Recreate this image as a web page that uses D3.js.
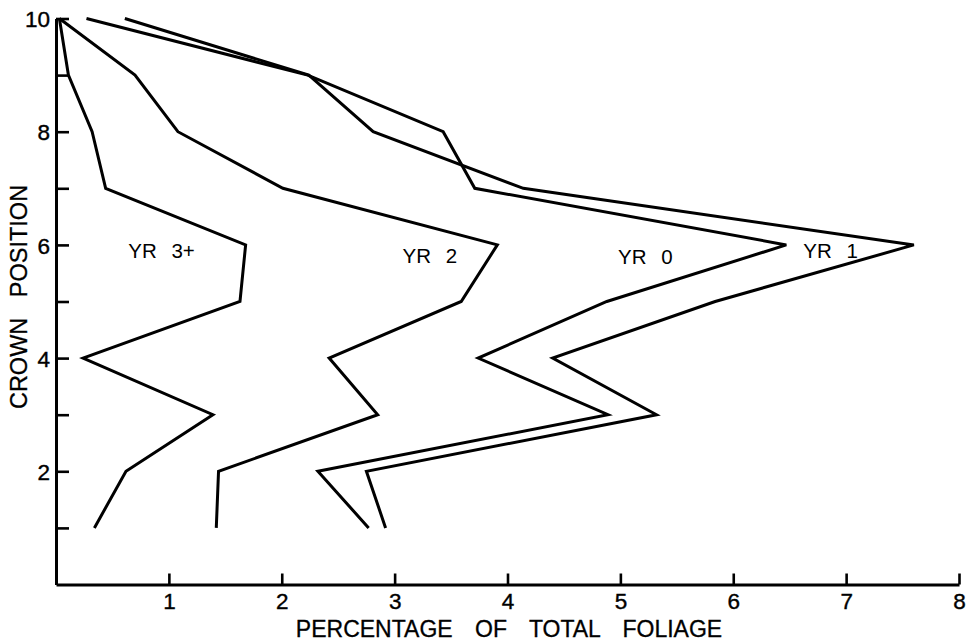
<!DOCTYPE html>
<html>
<head>
<meta charset="utf-8">
<script src="https://cdn.jsdelivr.net/npm/d3@7/dist/d3.min.js"></script>
<style>
  html, body { margin: 0; padding: 0; background: #fff; }
  svg { display: block; }
  text { font-family: "Liberation Sans", Arial, Helvetica, sans-serif; fill: #000; }
</style>
</head>
<body>
<svg id="chart" width="974" height="641"></svg>
<script>
// Crown positions (1 = bottom of crown, 10 = top)
const crownPositions = [1, 2, 3, 4, 5, 6, 7, 8, 9, 10];

// Percentage of total foliage by needle age class, per crown position
const yr0  = [2.77, 2.32, 4.89, 3.74, 4.88, 6.47, 3.71, 3.43, 2.23, 0.27];
const yr1  = [2.92, 2.75, 5.32, 4.40, 5.84, 7.60, 4.14, 2.81, 2.24, 0.61];
const yr2  = [1.42, 1.44, 2.85, 2.42, 3.59, 3.91, 2.01, 1.08, 0.70, 0.03];
const yr3p = [0.34, 0.62, 1.39, 0.24, 1.63, 1.68, 0.44, 0.32, 0.11, 0.03];

const seriesNames = ["YR 0", "YR 1", "YR 2", "YR 3+"];
const seriesValues = [yr0, yr1, yr2, yr3p];

// Curve labels, anchored in data units (percentage, crown position)
const labelNames = ["YR 3+", "YR 2", "YR 0", "YR 1"];
const labelPct   = [0.64, 3.07, 4.98, 6.62];
const labelPos   = [5.77, 5.68, 5.66, 5.77];

const xTicks = [1, 2, 3, 4, 5, 6, 7, 8];
const yTicks = [1, 2, 3, 4, 5, 6, 7, 8, 9, 10];
const yTickLabels = [2, 4, 6, 8, 10];

const svg = d3.select("#chart");

const x = d3.scaleLinear().domain([0, 8]).range([56, 959]);
const y = d3.scaleLinear().domain([0, 10]).range([584.5, 18.5]);

// Axes
const xAxis = d3.axisBottom(x)
  .tickValues(xTicks)
  .tickSizeInner(-11)
  .tickSizeOuter(0)
  .tickPadding(8.5)
  .tickFormat(d3.format("d"));

const yAxis = d3.axisLeft(y)
  .tickValues(yTicks)
  .tickSizeInner(-13)
  .tickSizeOuter(0)
  .tickPadding(6)
  .tickFormat(d => yTickLabels.includes(d) ? d : "");

const gx = svg.append("g")
  .attr("transform", `translate(0,${y(0)})`)
  .call(xAxis);

const gy = svg.append("g")
  .attr("transform", `translate(${x(0)},0)`)
  .call(yAxis);

[gx, gy].forEach(g => {
  g.select(".domain").attr("stroke", "#000").attr("stroke-width", 3);
  g.selectAll(".tick line").attr("stroke", "#000").attr("stroke-width", 2.6);
  g.selectAll(".tick text")
    .attr("font-family", "'Liberation Sans', Arial, sans-serif")
    .attr("font-size", 22.5)
    .attr("fill", "#000")
    .attr("stroke", "#000")
    .attr("stroke-width", 0.4);
});
gy.selectAll(".tick text").attr("dy", "0.36em");

// Foliage profiles
const line = d3.line()
  .x(d => x(d[0]))
  .y(d => y(d[1]));

svg.append("g")
  .selectAll("path")
  .data(seriesValues.map((vals, i) => ({
    name: seriesNames[i],
    pts: vals.map((v, j) => [v, crownPositions[j]])
  })))
  .join("path")
  .attr("fill", "none")
  .attr("stroke", "#000")
  .attr("stroke-width", 3)
  .attr("stroke-linejoin", "miter")
  .attr("d", d => line(d.pts));

// Curve labels
svg.append("g")
  .selectAll("text")
  .data(labelNames)
  .join("text")
  .attr("x", (d, i) => x(labelPct[i]))
  .attr("y", (d, i) => y(labelPos[i]))
  .attr("font-size", 20.5)
  .attr("word-spacing", 9)
  .text(d => d);

// Axis titles
svg.append("text")
  .attr("x", 509)
  .attr("y", 637)
  .attr("text-anchor", "middle")
  .attr("font-size", 23)
  .attr("word-spacing", 16)
  .attr("stroke", "#000")
  .attr("stroke-width", 0.3)
  .text("PERCENTAGE OF TOTAL FOLIAGE");

svg.append("text")
  .attr("transform", `translate(26.5,${297}) rotate(-90)`)
  .attr("text-anchor", "middle")
  .attr("font-size", 23.5)
  .attr("word-spacing", 14)
  .attr("stroke", "#000")
  .attr("stroke-width", 0.3)
  .text("CROWN POSITION");
</script>
</body>
</html>
